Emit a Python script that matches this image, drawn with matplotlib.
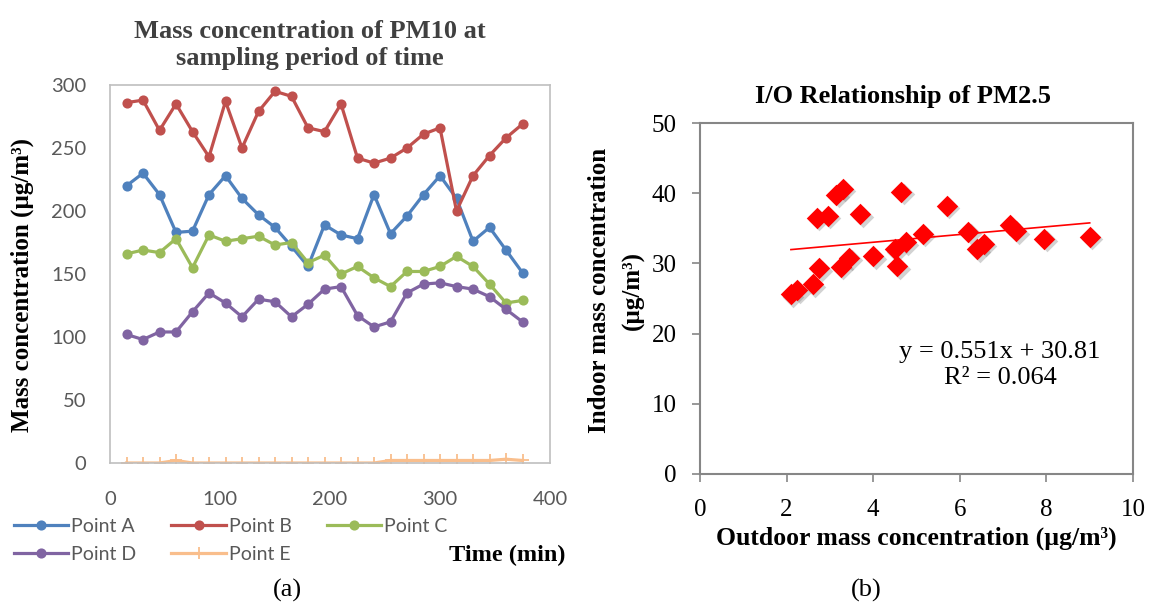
import numpy as np
import matplotlib.pyplot as plt
from matplotlib.transforms import offset_copy

# (a) PM10 mass concentration over the sampling period
time_min = [15, 30, 45, 60, 75, 90, 105, 120, 135, 150, 165, 180, 195,
            210, 225, 240, 255, 270, 285, 300, 315, 330, 345, 360, 375]
point_a = [220, 230, 213, 183, 184, 213, 228, 210, 197, 187, 172, 156, 189,
           181, 178, 213, 182, 196, 213, 228, 210, 176, 187, 169, 151]
point_b = [286, 288, 264, 285, 263, 243, 287, 250, 279, 295, 291, 266, 263,
           285, 242, 238, 242, 250, 261, 266, 200, 228, 244, 258, 269]
point_c = [166, 169, 167, 178, 155, 181, 176, 178, 180, 173, 175, 159, 165,
           150, 156, 147, 140, 152, 152, 156, 164, 156, 142, 127, 129]
point_d = [102, 98, 104, 104, 120, 135, 127, 116, 130, 128, 116, 126, 138,
           140, 117, 108, 112, 135, 142, 143, 140, 138, 132, 122, 112]
point_e = [0, 0, 0, 2, 0, 0, 0, 0, 0, 0, 0, 0, 0,
           0, 0, 0, 2, 2, 2, 2, 2, 2, 2, 3, 2]
series_names = ["Point A", "Point B", "Point C", "Point D", "Point E"]

# (b) indoor vs outdoor PM2.5
outdoor = [2.1, 2.25, 2.6, 2.75, 2.7, 2.95, 3.15, 3.3, 3.7, 3.25, 3.45, 4.0, 4.55,
           4.5, 4.75, 4.65, 5.15, 5.7, 6.2, 6.4, 6.55, 7.15, 7.3, 7.95, 9.0]
indoor = [25.6, 26.2, 27.0, 29.3, 36.5, 36.8, 39.8, 40.6, 37.0, 29.5, 30.8, 31.0, 29.6,
          32.0, 33.0, 40.2, 34.2, 38.2, 34.5, 32.0, 32.8, 35.5, 34.6, 33.5, 33.8]
slope, intercept, r2 = 0.551, 30.81, 0.064

serif = "Liberation Serif"
sans = "Lato"
label_grey = "#595959"
W, H = 1152, 607

fig = plt.figure(figsize=(11.52, 6.07), dpi=100)

# ---------- left chart ----------
ax1 = fig.add_axes([110 / W, 1 - 463 / H, 440 / W, 378 / H])
styles = [("#4F81BD", "o"), ("#C0504D", "o"), ("#9BBB59", "o"),
          ("#8064A2", "o"), ("#F9BE8C", "+")]
handles = []
for vals, name, (col, mk) in zip([point_a, point_b, point_c, point_d, point_e],
                                 series_names, styles):
    h, = ax1.plot(time_min, vals, color=col, marker=mk, lw=2.3,
                  ms=6 if mk == "o" else 8, mew=1.3, label=name)
    handles.append(h)
ax1.set_xlim(0, 400)
ax1.set_ylim(0, 300)
ax1.set_xticks(range(0, 401, 100))
ax1.set_yticks(range(0, 301, 50))
ax1.tick_params(length=0, labelsize=14.5, labelcolor=label_grey)
ax1.tick_params(axis="x", pad=20)
ax1.tick_params(axis="y", pad=17)
for lab in ax1.get_xticklabels() + ax1.get_yticklabels():
    lab.set_family(sans)
for sp in ax1.spines.values():
    sp.set_color("#BFBFBF")
    sp.set_linewidth(1.2)

fig.text(310 / W, 1 - 45 / H, "Mass concentration of PM10 at\nsampling period of time",
         ha="center", va="center", family=serif, fontweight="bold",
         fontsize=19, color="#404040", linespacing=1.25)
fig.text(22 / W, 1 - 285 / H, "Mass concentration (µg/m³)", rotation=90,
         ha="center", va="center", family=serif, fontweight="bold", fontsize=18)
fig.text(507 / W, 1 - 555 / H, "Time (min)", ha="center", va="center",
         family=serif, fontweight="bold", fontsize=17.5)
# legend fills column by column: reorder so rows read A B C / D E
order = [0, 3, 1, 4, 2]
leg = fig.legend([handles[i] for i in order], [series_names[i] for i in order],
                 loc="upper left", bbox_to_anchor=(14 / W, 1 - 518 / H), ncol=3,
                 frameon=False, prop={"family": sans, "size": 14},
                 handlelength=2.8, handletextpad=0.15, columnspacing=1.8,
                 labelspacing=0.55, borderaxespad=0, borderpad=0)
for t in leg.get_texts():
    t.set_color(label_grey)

# ---------- right chart ----------
ax2 = fig.add_axes([700 / W, 1 - 474 / H, 433 / W, 351 / H])
shadow = offset_copy(ax2.transData, fig=fig, x=2.5, y=-2.5, units="dots")
ax2.scatter(outdoor, indoor, marker="D", s=120, color="#7F7F7F", alpha=0.35,
            lw=0, transform=shadow, zorder=2)
ax2.scatter(outdoor, indoor, marker="D", s=120, color="#FF0000", lw=0, zorder=3)
xfit = np.array([min(outdoor), max(outdoor)])
ax2.plot(xfit, slope * xfit + intercept, color="#FF0000", lw=1.2, zorder=2)
ax2.set_xlim(0, 10)
ax2.set_ylim(0, 50)
ax2.set_xticks(range(0, 11, 2))
ax2.set_yticks(range(0, 51, 10))
ax2.tick_params(direction="out", length=6, width=1.2, color="#868686", labelsize=18)
ax2.tick_params(axis="x", pad=12)
ax2.tick_params(axis="y", pad=11)
for lab in ax2.get_xticklabels() + ax2.get_yticklabels():
    lab.set_family(serif)
for sp in ax2.spines.values():
    sp.set_color("#868686")
    sp.set_linewidth(1.5)
ax2.text(6.93, 17.4, f"y = {slope}x + {intercept}", ha="center", va="center",
         family=serif, fontsize=19)
ax2.text(6.93, 13.7, f"R² = {r2}", ha="center", va="center", family=serif, fontsize=19)

fig.text(903 / W, 1 - 96 / H, "I/O Relationship of PM2.5", ha="center", va="center",
         family=serif, fontweight="bold", fontsize=19)
fig.text(599 / W, 1 - 290 / H, "Indoor mass concentration", rotation=90,
         ha="center", va="center", family=serif, fontweight="bold", fontsize=18)
fig.text(633 / W, 1 - 290 / H, "(µg/m³)", rotation=90,
         ha="center", va="center", family=serif, fontweight="bold", fontsize=18)
fig.text(916 / W, 1 - 538 / H, "Outdoor mass concentration (µg/m³)", ha="center",
         va="center", family=serif, fontweight="bold", fontsize=18.5)

fig.text(287 / W, 1 - 590 / H, "(a)", ha="center", va="center", family=serif, fontsize=19)
fig.text(866 / W, 1 - 590 / H, "(b)", ha="center", va="center", family=serif, fontsize=19)

fig.savefig("out.png", dpi=100)
